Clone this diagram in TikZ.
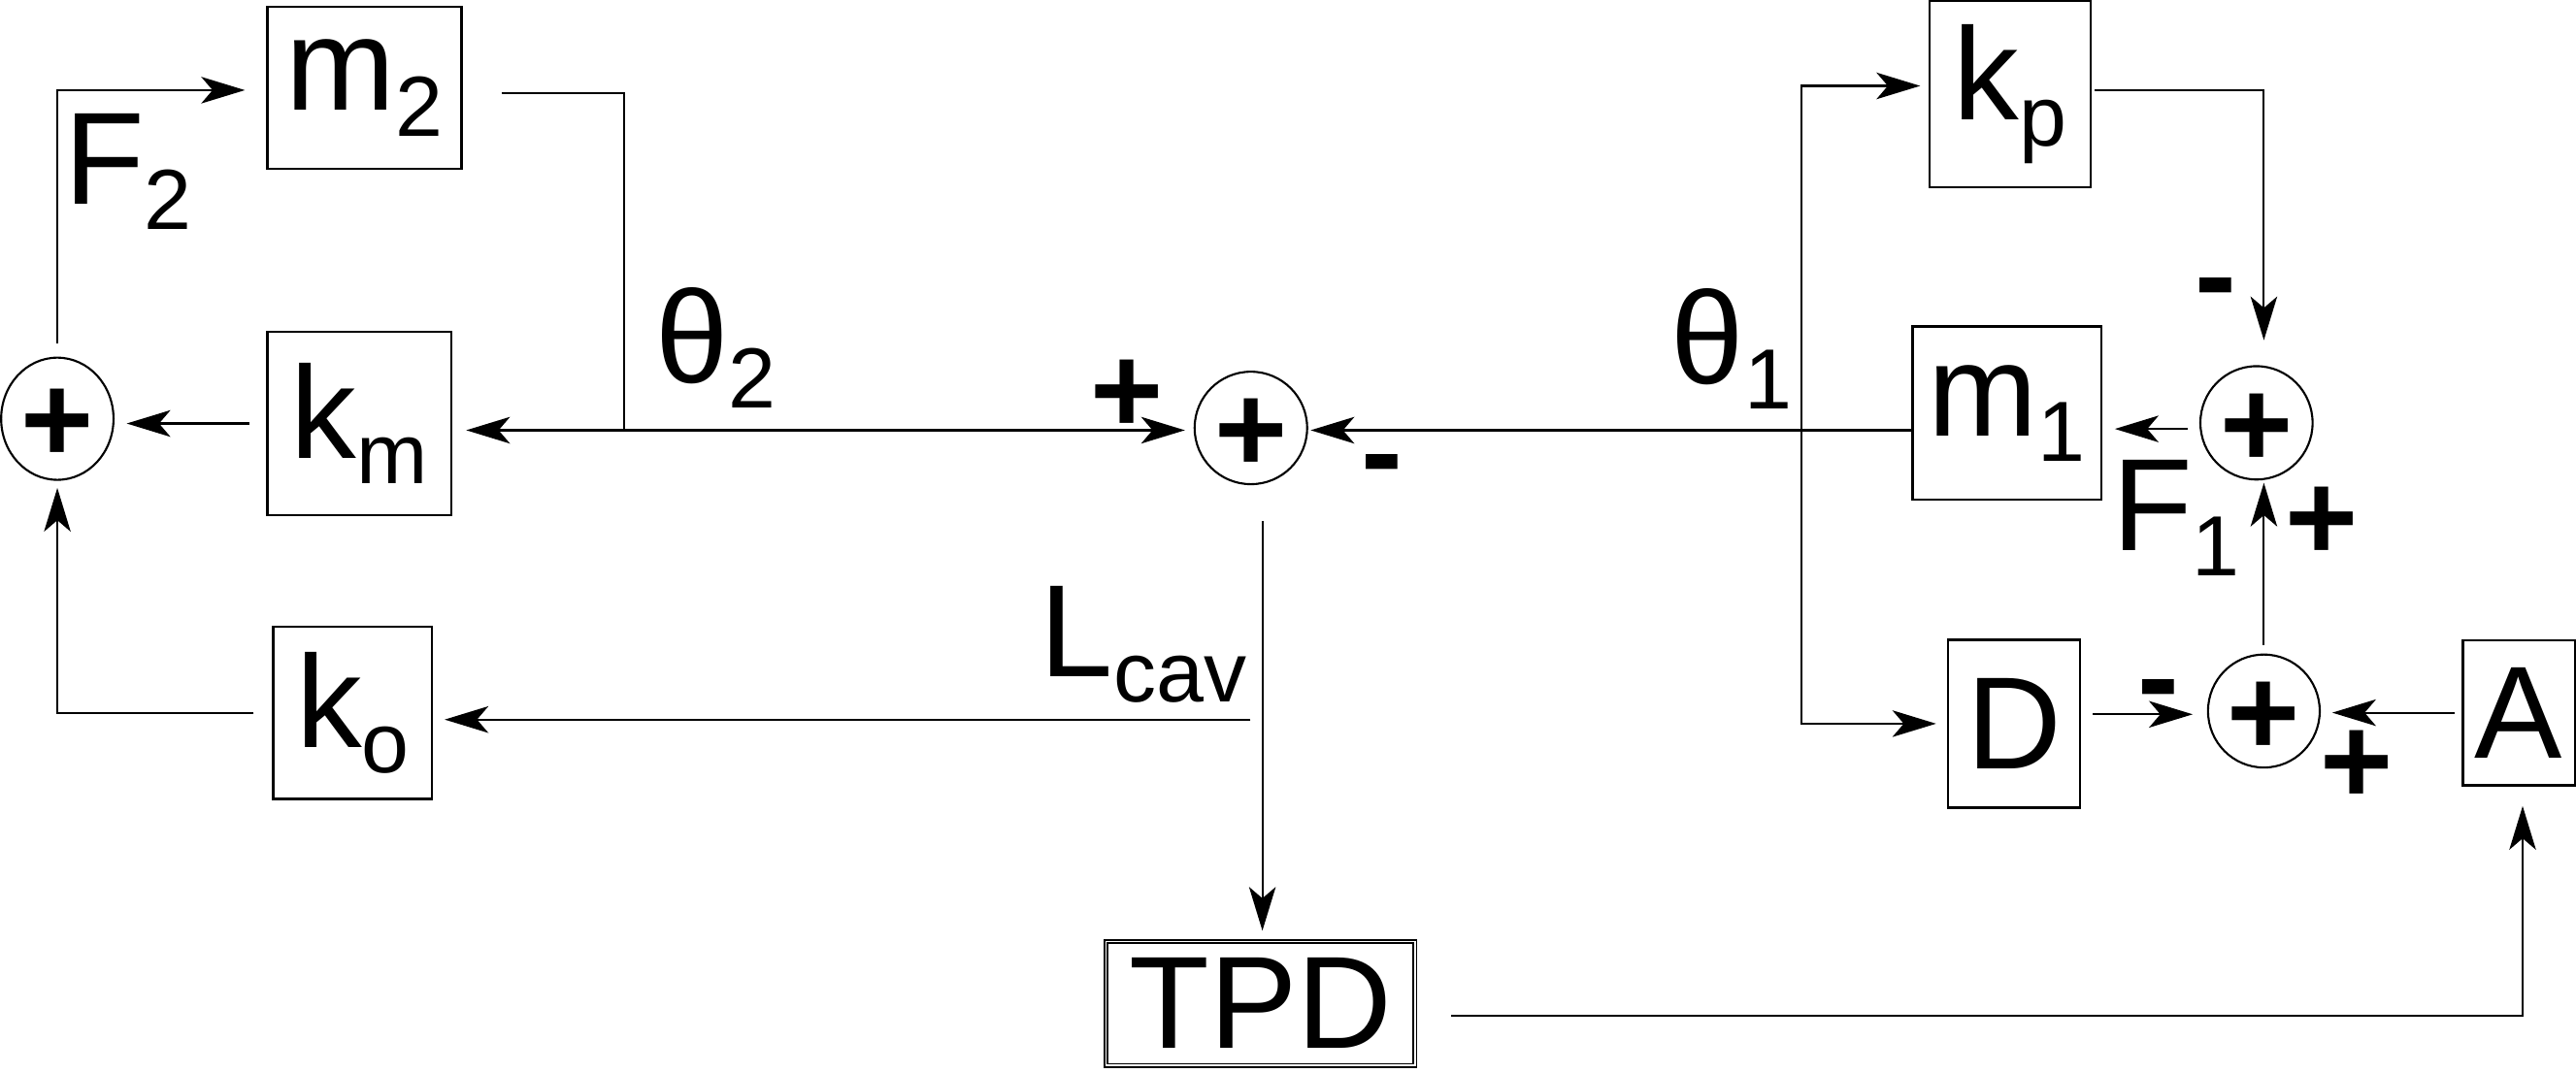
\documentclass[tikz,border=0pt]{standalone}
\usepackage{fontspec}
\setmainfont{Liberation Sans}
\usetikzlibrary{arrows.meta,shapes.geometric,calc}
\newcommand\bigf{\fontsize{80}{80}\selectfont}
\newcommand\sbs[1]{\raisebox{-15.5pt}{\fontsize{52}{52}\selectfont #1}}
\newcommand\sgnf{\fontsize{76}{76}\selectfont\bfseries}
\begin{document}
\begin{tikzpicture}[x=1pt,y=-1pt,
  >={Stealth[length=26.6pt,width=16.2pt,inset=6.9pt]},
  conn/.style={line width=1.25pt},
  blk/.style={draw,line width=1.6pt,inner sep=0pt,font=\bigf},
  sumnode/.style={draw,ellipse,line width=1.25pt,inner sep=0pt,
    label={[sign,yshift=-4.5pt]center:+}},
  lbl/.style={inner sep=0pt,anchor=base west,font=\bigf},
  sign/.style={inner sep=0pt,font=\sgnf}]
\useasboundingbox (0,0) rectangle (1568,653);

% blocks
\node[blk,minimum width=118pt,minimum height=98.6pt] (m2) at (221.8,53.5) {m\sbs{2}};
\node[blk,minimum width=112pt,minimum height=111.6pt] (km) at (218.8,257.9) {k\sbs{m}};
\node[blk,minimum width=96.5pt,minimum height=104.7pt] (ko) at (214.7,434) {k\sbs{o}};
\node[blk,minimum width=98pt,minimum height=113.4pt] (kp) at (1223.5,57.3) {k\sbs{p}};
\node[blk,minimum width=115pt,minimum height=105.3pt] (m1) at (1221.6,251.6) {m\sbs{1}};
\node[blk,minimum width=80.4pt,minimum height=101.9pt] (D) at (1225.9,440.7) {D};
\node[blk,minimum width=68.5pt,minimum height=88.3pt] (A) at (1533.2,434) {A};
\node[blk,line width=1pt,double,double distance=0.9pt,minimum width=188pt,minimum height=75.5pt] (TPD) at (767.3,611) {TPD};

% summing junctions
\node[sumnode,minimum width=68.4pt,minimum height=74.4pt] (S2) at (34.9,255) {};
\node[sumnode,minimum width=68.5pt,minimum height=68.5pt] (S0) at (761.4,260.6) {};
\node[sumnode,minimum width=68.3pt,minimum height=69pt] (S1) at (1373.5,257.5) {};
\node[sumnode,minimum width=68pt,minimum height=68.8pt] (S3) at (1378,433) {};

% branch points
\coordinate (j2) at (379.8,262);
\coordinate (j1) at (1096.6,262);
\coordinate (jc) at (768.4,438.2);

% connectors
\draw[conn,->,shorten <=7.8pt,shorten >=12.9pt] (S2.north) |- ([yshift=-1.4pt]m2.west);
\draw[conn,shorten <=23.7pt] ([yshift=-3pt]m2.east) -| (j2);
\draw[conn,<->,shorten <=8.2pt,shorten >=5.3pt] (km.east |- j2) -- (j2 -| S0.west);
\draw[conn,->,shorten <=10.2pt,shorten >=7.4pt] (km.west) -- (S2.east |- km.west);
\draw[conn,->,shorten <=11.2pt,shorten >=4.3pt] (ko.west) -| (S2.south);
\draw[conn,->,shorten <=21.9pt,shorten >=6pt] (S0.south -| jc) -- (TPD.north -| jc);
\draw[conn,->,shorten <=7.2pt,shorten >=6.9pt] (jc) -- (jc -| ko.east);
\draw[conn,->,shorten >=1.5pt] (m1.west |- j1) -- (S0.east |- j1);
\draw[conn,<->,shorten <=4.9pt,shorten >=6.4pt] ([yshift=5pt]kp.west) -- ([yshift=5pt]kp.west -| j1) -- (D.west -| j1) -- (D.west);
\draw[conn,->,shorten <=1.6pt,shorten >=15.2pt] ([yshift=2.4pt]kp.east) -| (S3.north |- S1.north);
\draw[conn,->,shorten <=7.2pt,shorten >=7.4pt] ([yshift=-3.7pt]S1.west) -- ([yshift=-3.7pt]S1.west -| m1.east);
\draw[conn,->,shorten <=5.1pt,shorten >=1.4pt] (S3.north) -- (S3.north |- S1.south);
\draw[conn,->,shorten <=6.9pt,shorten >=8.7pt] ([yshift=5.7pt]D.east) -- ([yshift=5.7pt]D.east -| S3.west);
\draw[conn,->,shorten <=4.3pt,shorten >=7pt] (A.west) -- (S3.east |- A.west);
\draw[conn,->,shorten <=21.3pt,shorten >=11.9pt] ([yshift=-7.8pt]TPD.east) -| ([xshift=2.3pt]A.south);

% signal labels
\node[lbl] (lF2) at (38.9,124.5) {F\sbs{2}};
\node[lbl] (lth2) at (398.7,233) {θ\sbs{2}};
\node[lbl] (lth1) at (1017,233.5) {θ\sbs{1}};
\node[lbl] (lL) at (633,412) {L\sbs{cav}};
\node[lbl] (lF1) at (1285.5,335.4) {F\sbs{1}};

% signs
\node[sign] (p0) at (686,241.5) {+};
\node[sign] (n0) at (841,289) {-};
\node[sign] (n1) at (1349,181.6) {-};
\node[sign] (p1) at (1413,319.1) {+};
\node[sign] (n3) at (1314,426) {-};
\node[sign] (p3) at (1434.5,467.3) {+};
\end{tikzpicture}
\end{document}
